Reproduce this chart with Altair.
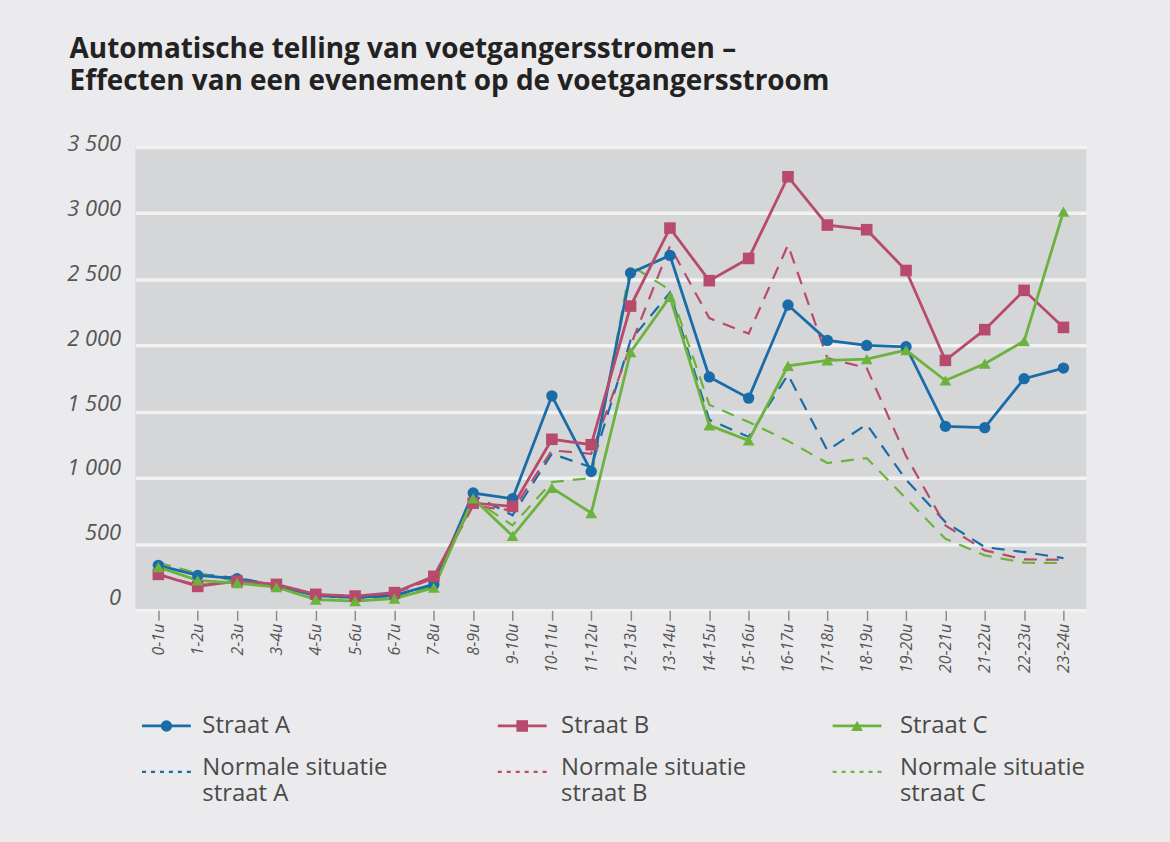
import altair as alt
import pandas as pd

# ---------------- data ----------------
hours = ["0-1u", "1-2u", "2-3u", "3-4u", "4-5u", "5-6u", "6-7u", "7-8u",
         "8-9u", "9-10u", "10-11u", "11-12u", "12-13u", "13-14u", "14-15u",
         "15-16u", "16-17u", "17-18u", "18-19u", "19-20u", "20-21u",
         "21-22u", "22-23u", "23-24u"]

straat_a = [340, 264, 239, 186, 111, 96, 113, 196, 886, 843, 1620, 1048,
            2548, 2681, 1763, 1603, 2306, 2039, 2001, 1991, 1390, 1380, 1750, 1830]
straat_b = [272, 181, 221, 196, 121, 108, 134, 257, 810, 785, 1292, 1251,
            2298, 2887, 2490, 2658, 3275, 2910, 2875, 2567, 1888, 2120, 2417, 2137]
straat_c = [327, 227, 206, 176, 81, 70, 88, 171, 845, 562, 925, 735,
            1951, 2367, 1397, 1283, 1847, 1888, 1898, 1966, 1736, 1863, 2034, 3012]

normaal_a = [330, 275, 245, 190, 110, 95, 110, 190, 870, 718, 1183, 1080,
             2040, 2400, 1440, 1310, 1780, 1208, 1405, 986, 667, 478, 440, 395]
normaal_b = [270, 190, 215, 195, 120, 105, 130, 240, 790, 755, 1208, 1183,
             2000, 2750, 2207, 2090, 2760, 1905, 1830, 1165, 642, 453, 385, 382]
normaal_c = [360, 280, 220, 180, 85, 75, 95, 180, 840, 642, 969, 1000,
             2606, 2420, 1553, 1422, 1280, 1113, 1150, 845, 541, 415, 360, 357]

streets = ["A", "B", "C"]
legend_labels_solid = ["Straat A", "Straat B", "Straat C"]
legend_labels_dashed = ["Normale situatie\nstraat A", "Normale situatie\nstraat B",
                        "Normale situatie\nstraat C"]
y_ticks = [0, 500, 1000, 1500, 2000, 2500, 3000, 3500]

title_lines = ["Automatische telling van voetgangersstromen –",
               "Effecten van een evenement op de voetgangersstroom"]

# ---------------- styles ----------------
COLORS = ["#1a6ca9", "#b84b6c", "#6cb33e"]
SHAPES = ["circle", "square", "triangle-up"]
SIZES = [130, 140, 150]
LEG_SIZES = [75, 110, 100]
FONT = "Open Sans"
TXT = "#4a4a4a"

rows = []
for s, actual, normal in zip(streets, [straat_a, straat_b, straat_c],
                             [normaal_a, normaal_b, normaal_c]):
    for h, v in zip(hours, actual):
        rows.append({"uur": h, "waarde": v, "straat": s, "soort": "actueel"})
    for h, v in zip(hours, normal):
        rows.append({"uur": h, "waarde": v, "straat": s, "soort": "normaal"})
df = pd.DataFrame(rows)

color_scale = alt.Scale(domain=streets, range=COLORS)
shape_scale = alt.Scale(domain=streets, range=SHAPES)
size_scale = alt.Scale(domain=streets, range=SIZES)

# y labels sit a little above their gridlines, more so lower down
label_offsets = {"condition": [
    {"test": "datum.value === 0", "value": -13},
    {"test": "datum.value === 500", "value": -11.5},
    {"test": "datum.value === 1000", "value": -10},
    {"test": "datum.value === 1500", "value": -8.5},
    {"test": "datum.value === 2000", "value": -7.3},
    {"test": "datum.value === 2500", "value": -6.3},
    {"test": "datum.value === 3000", "value": -4.5},
], "value": -3}

x_enc = alt.X(
    "uur:N", sort=hours, title=None,
    scale=alt.Scale(type="point", padding=0.58),
    axis=alt.Axis(labelAngle=-90, labelFontStyle="italic", labelFontSize=16,
                  labelColor="#555555", labelFont=FONT, labelPadding=3,
                  ticks=True, tickSize=10, tickColor="#8c8c8c", tickWidth=1.5,
                  domain=False, grid=False),
)
y_enc = alt.Y(
    "waarde:Q", title=None,
    scale=alt.Scale(domain=[0, 3500], nice=False),
    axis=alt.Axis(values=y_ticks, ticks=False, domain=False,
                  labelExpr="replace(format(datum.value, ','), ',', ' ')",
                  labelFontStyle="italic", labelFontSize=22, labelColor="#555555",
                  labelFont=FONT, labelPadding=15, labelOffset=label_offsets,
                  gridColor="#f2f2f3", gridWidth=3.5),
)

base = alt.Chart(df).encode(
    x=x_enc, y=y_enc,
    color=alt.Color("straat:N", scale=color_scale, legend=None),
)

dashed = base.transform_filter(alt.datum.soort == "normaal").mark_line(
    strokeWidth=2.2, strokeDash=[13, 9]).encode(detail="straat:N")
solid = base.transform_filter(alt.datum.soort == "actueel").mark_line(
    strokeWidth=2.8).encode(detail="straat:N")
points = base.transform_filter(alt.datum.soort == "actueel").mark_point(
    filled=True, opacity=1).encode(
    shape=alt.Shape("straat:N", scale=shape_scale, legend=None),
    size=alt.Size("straat:N", scale=size_scale, legend=None),
)

main = alt.layer(dashed, solid, points)

# ---------------- custom legend ----------------
leg_rows = []
for i, s in enumerate(streets):
    leg_rows.append({"kol": i, "rij": 0, "straat": s, "label": legend_labels_solid[i]})
    leg_rows.append({"kol": i, "rij": 1, "straat": s, "label": legend_labels_dashed[i]})
leg_df = pd.DataFrame(leg_rows)

ly = alt.Y("rij:Q", scale=alt.Scale(domain=[0, 1], range=[581, 627]), axis=None)
sym_x = alt.X("kol:Q", scale=alt.Scale(domain=[0, 1, 2], range=[31, 388, 724]), axis=None)
txt_x = alt.X("kol:Q", scale=alt.Scale(domain=[0, 1, 2], range=[67, 427, 767]), axis=None)

sbase = alt.Chart(leg_df).encode(
    x=sym_x, y=ly, color=alt.Color("straat:N", scale=color_scale, legend=None))
tbase = alt.Chart(leg_df).encode(x=txt_x, y=ly, text="label:N")

leg_solid = sbase.transform_filter(alt.datum.rij == 0).mark_point(
    shape="stroke", size=49 * 49, strokeWidth=2.8, opacity=1)
leg_dash = sbase.transform_filter(alt.datum.rij == 1).mark_point(
    shape="stroke", size=49 * 49, strokeWidth=2.2, strokeDash=[4, 5], opacity=1)
leg_mark = sbase.transform_filter(alt.datum.rij == 0).mark_point(
    filled=True, opacity=1).encode(
    shape=alt.Shape("straat:N", scale=shape_scale, legend=None),
    size=alt.Size("straat:N", scale=alt.Scale(domain=streets, range=LEG_SIZES),
                  legend=None))
leg_text1 = tbase.transform_filter(alt.datum.rij == 0).mark_text(
    align="left", baseline="middle", font=FONT, fontSize=24, color=TXT)
leg_text2 = tbase.transform_filter(alt.datum.rij == 1).mark_text(
    align="left", baseline="middle", dy=-4, font=FONT, fontSize=24,
    lineBreak="\n", lineHeight=26, color=TXT)

legend = alt.layer(
    alt.layer(leg_solid, leg_dash, leg_mark),
    alt.layer(leg_text1, leg_text2),
).resolve_scale(x="independent")

chart = alt.layer(main, legend).resolve_scale(x="independent", y="independent").properties(
    width=954, height=465,
    padding={"left": 66, "top": 35, "right": 84, "bottom": 40},
    background="#ebebed",
    title=alt.TitleParams(title_lines, anchor="start", font=FONT, fontSize=28,
                          fontWeight="bold", color="#222222", lineHeight=32,
                          offset=37, dx=3),
).configure_view(fill="#d5d6d8", strokeWidth=0)

chart.save("out.html", embed_options={"renderer": "svg", "actions": False})
